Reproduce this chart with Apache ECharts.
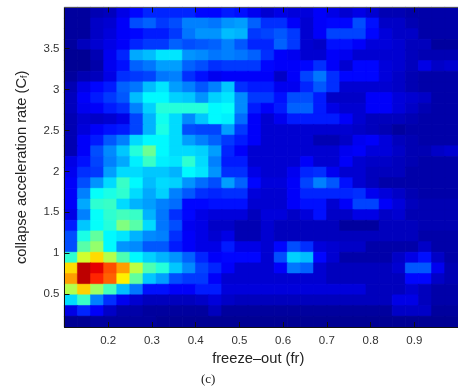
<!DOCTYPE html>
<html><head><meta charset="utf-8">
<style>html,body{margin:0;padding:0;background:#fff;overflow:hidden}#c{width:458px;height:387px}</style>
<script src="https://cdn.jsdelivr.net/npm/echarts@6/dist/echarts.min.js"></script>
</head><body><div id="c"></div>
<script>
const freezeOutBins = ['0.115','0.145','0.175','0.205','0.235','0.265','0.295','0.325','0.355','0.385','0.415','0.445','0.475','0.505','0.535','0.565','0.595','0.625','0.655','0.685','0.715','0.745','0.775','0.805','0.835','0.865','0.895','0.925','0.955','0.985'];
const rateBins = ['3.935','3.805','3.675','3.545','3.415','3.285','3.155','3.025','2.895','2.765','2.635','2.505','2.375','2.245','2.115','1.985','1.855','1.725','1.595','1.465','1.335','1.205','1.075','0.945','0.815','0.685','0.555','0.425','0.295','0.165'];
const xTicks = [0.2,0.3,0.4,0.5,0.6,0.7,0.8,0.9];
const yTicks = [0.5,1,1.5,2,2.5,3,3.5];
// density, top row first, 0..100 on the colour ramp
const density = [
[3,3,5,6,10,13,16,16,16,16,13,13,15,14,11,8,10,9,9,12,10,8,10,8,5,5,4,4,4,4],
[3,3,7,8,12,20,22,18,20,25,25,24,27,28,22,17,17,12,8,12,13,13,20,14,7,7,5,4,4,4],
[3,3,7,9,12,13,15,15,18,24,27,27,31,30,18,19,21,18,8,12,19,19,19,13,9,7,7,4,4,4],
[3,6,8,10,12,16,18,18,22,20,21,22,25,21,16,16,22,18,8,7,14,14,12,9,9,8,6,6,3,3],
[2,2,5,11,16,29,31,35,35,27,26,24,25,24,22,17,12,11,8,8,12,11,8,8,8,8,6,5,5,5],
[2,2,4,11,14,22,24,28,28,22,20,17,18,18,18,13,12,12,13,17,12,8,13,13,9,8,6,10,7,8],
[3,5,6,10,17,18,19,24,25,17,14,11,12,12,12,12,7,12,19,24,17,13,13,13,9,7,5,4,4,4],
[5,10,13,15,22,24,31,35,28,25,21,25,32,17,15,15,11,11,16,21,17,8,8,8,8,7,5,4,4,4],
[6,12,15,18,21,31,37,37,33,32,27,33,35,26,18,18,14,20,20,15,7,7,7,12,12,9,8,7,4,4],
[6,11,12,15,17,25,33,41,41,41,41,37,38,26,15,12,15,22,22,15,10,8,8,12,12,9,7,5,4,4],
[5,8,7,8,10,19,30,39,34,26,32,37,36,23,12,8,11,15,15,15,15,12,8,6,6,6,5,4,4,4],
[5,9,12,14,15,19,30,40,34,20,19,19,28,18,12,8,8,8,8,8,8,8,7,6,5,3,4,4,4,4],
[5,12,15,21,25,34,37,37,34,28,25,22,18,15,12,8,8,8,8,5,5,7,11,12,9,6,5,4,4,4],
[5,12,20,26,32,41,48,37,34,34,33,28,16,12,8,8,8,8,8,8,8,11,12,9,9,7,5,5,7,8],
[10,14,19,25,29,36,43,36,35,42,34,25,15,15,8,8,8,8,12,8,8,12,8,7,7,6,5,4,4,4],
[11,17,18,28,34,34,32,32,30,37,35,27,17,17,10,8,8,11,16,17,11,8,8,6,6,6,4,4,4,4],
[12,20,27,34,43,37,31,34,33,27,23,20,28,22,13,9,9,12,19,25,21,14,8,6,4,4,4,4,4,4],
[12,25,38,40,42,34,29,33,25,21,17,16,17,17,9,8,8,12,16,16,16,16,17,11,9,7,5,4,4,4],
[12,29,42,43,34,30,28,25,23,13,13,14,14,14,8,8,8,12,14,14,8,12,19,19,12,9,6,5,5,5],
[10,25,38,42,44,43,30,24,17,13,10,9,9,9,6,9,9,7,9,14,7,7,10,10,7,8,5,5,5,5],
[15,32,38,41,50,46,34,24,20,11,10,7,7,5,5,8,6,6,6,6,6,3,3,3,6,6,6,5,5,5],
[20,40,47,37,35,30,26,25,17,12,10,8,10,5,5,8,6,6,6,6,6,6,6,6,6,6,6,4,4,4],
[20,46,52,37,27,26,21,21,15,12,10,10,15,10,10,8,13,20,17,9,8,7,7,4,4,4,4,7,4,4],
[42,58,66,55,45,37,33,30,27,22,16,12,13,13,13,8,20,33,31,13,8,4,4,4,4,7,10,14,7,4],
[66,94,90,80,72,56,45,41,32,26,19,16,12,8,8,8,12,24,22,8,6,6,6,6,6,8,21,21,11,5],
[72,94,84,78,64,47,32,28,20,18,18,12,8,8,8,8,8,8,8,8,6,6,6,6,6,6,13,13,7,5],
[55,67,53,44,31,24,14,14,12,12,15,15,9,9,9,9,9,9,9,9,9,9,9,6,6,6,8,6,4,4],
[34,43,25,17,11,8,6,6,6,6,7,9,7,6,6,6,6,6,6,6,6,6,6,6,6,10,10,6,4,4],
[10,16,12,7,4,4,3,3,3,3,3,6,3,3,3,3,3,3,3,3,3,3,3,3,3,7,7,7,3,3],
[2,2,3,3,3,3,3,2,2,2,2,2,2,2,2,2,2,2,2,2,2,2,2,2,2,2,2,2,2,2]
];
const jet = ['#000080','#0000ff','#0080ff','#00ffff','#80ff80','#ffff00','#ff8000','#ff0000','#800000'];
function ramp(v){
  const t = Math.min(7.999, v / 12.5), i = Math.floor(t), f = t - i;
  const a = echarts.color.parse(jet[i]), b = echarts.color.parse(jet[i+1]);
  return 'rgb(' + [0,1,2].map(k => Math.round(a[k] + (b[k]-a[k])*f)).join(',') + ')';
}
const cells = [];
density.forEach((row, r) => row.forEach((v, c) => cells.push({value:[c, r, v], itemStyle:{color:ramp(v), borderColor:ramp(v), borderWidth:0.5}})));

const tickFont = {color:'#333', fontFamily:'Liberation Sans', fontSize:11.5};
const nameFont = {color:'#222', fontFamily:'Liberation Sans', fontSize:14.7};
const chart = echarts.init(document.getElementById('c'), null, {renderer:'canvas'});
chart.setOption({
  animation:false,
  backgroundColor:'#fff',
  title:{text:'(c)', left:196, top:368, textStyle:{fontFamily:'Liberation Serif', fontSize:13, fontWeight:'normal', color:'#222'}},
  grid:{left:64.5, top:7.5, width:405, height:319.5, containLabel:false},
  xAxis:[
    {type:'category', data:freezeOutBins, show:false},
    {type:'value', position:'bottom', z:10, min:0.1, max:1, splitLine:{show:false},
     axisLine:{show:true,lineStyle:{color:'#111',width:1}},
     axisTick:{show:true,inside:true,length:5,customValues:xTicks,lineStyle:{color:'#111'}},
     axisLabel:Object.assign({show:true,margin:8,customValues:xTicks,formatter:v=>String(+v.toFixed(1))},tickFont),
     name:'freeze–out (fr)', nameLocation:'middle', nameGap:17, nameTextStyle:Object.assign({padding:[0,6,0,0]},nameFont)},
    {type:'value', position:'top', z:10, min:0.1, max:1, splitLine:{show:false},
     axisLine:{show:true,lineStyle:{color:'#555',width:1}},
     axisTick:{show:true,inside:true,length:5,customValues:xTicks,lineStyle:{color:'#111'}},
     axisLabel:{show:false}}
  ],
  yAxis:[
    {type:'category', data:rateBins, inverse:true, show:false},
    {type:'value', position:'left', z:10, min:0.1, max:4, splitLine:{show:false},
     axisLine:{show:true,lineStyle:{color:'#111',width:1}},
     axisTick:{show:true,inside:true,length:5,customValues:yTicks,lineStyle:{color:'#111'}},
     axisLabel:Object.assign({show:true,margin:5,customValues:yTicks,formatter:v=>String(v)},tickFont),
     name:'{a|collapse acceleration rate (C}{s|f}{a|)}', nameLocation:'middle', nameGap:35,
     nameTextStyle:{rich:{a:nameFont, s:{color:'#222',fontFamily:'Liberation Sans',fontSize:9,verticalAlign:'bottom',padding:[6,0,0,0]}}}}
  ],
  series:[{type:'heatmap', z:1, xAxisIndex:0, yAxisIndex:0, data:cells, progressive:0, emphasis:{disabled:true}}]
});
</script></body></html>
